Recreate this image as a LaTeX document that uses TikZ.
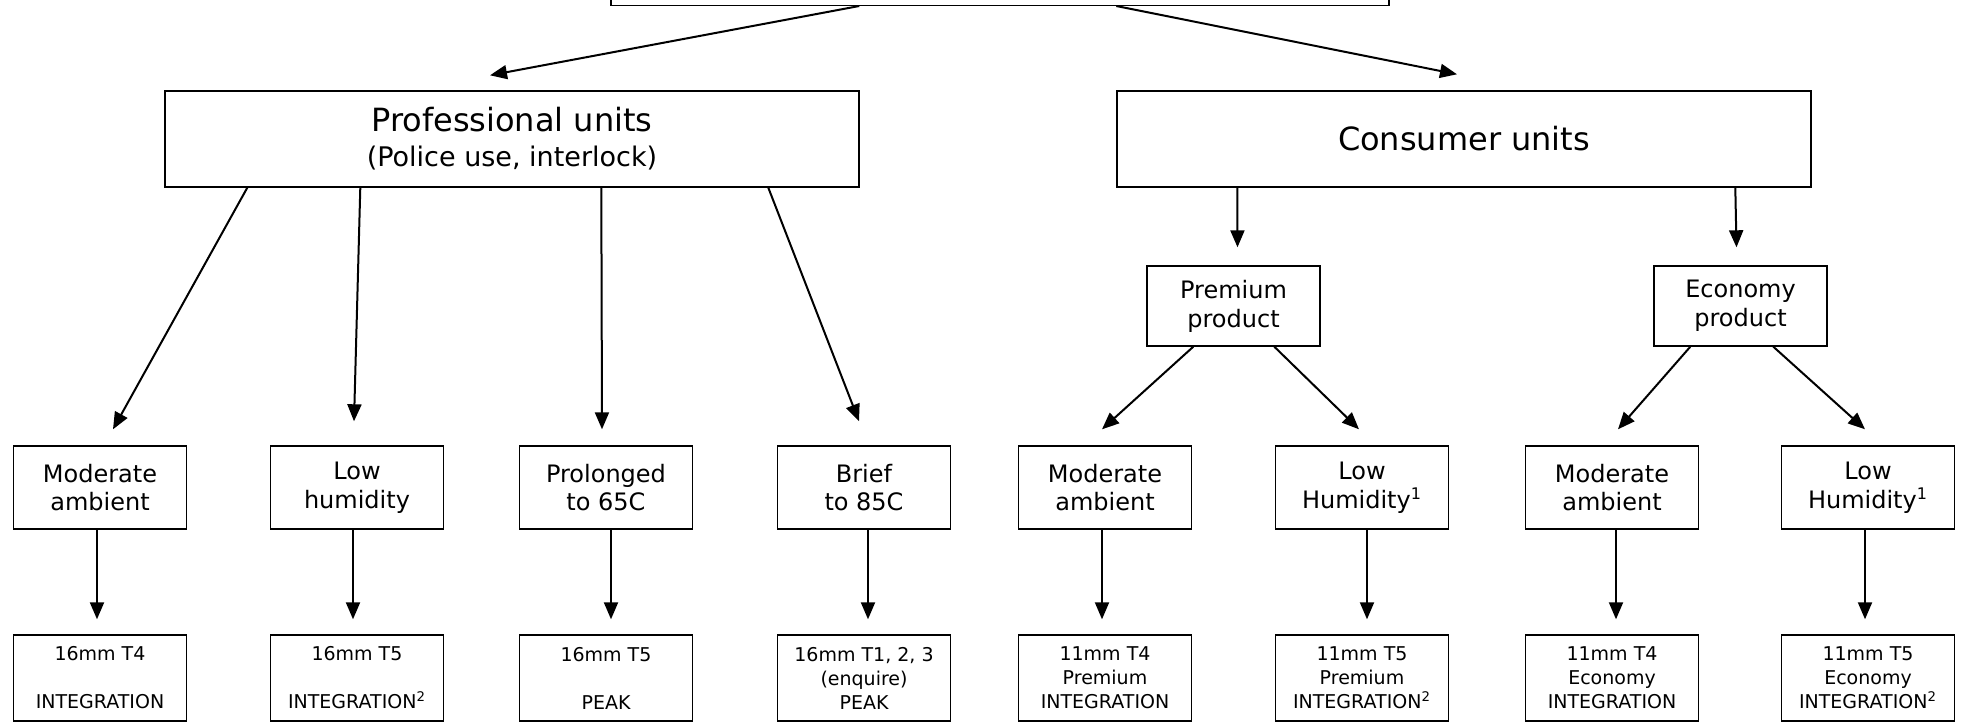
\documentclass[tikz,border=0pt]{standalone}
\usepackage{fontspec}
\setmainfont{DejaVu Sans}
\usetikzlibrary{arrows.meta}

\begin{document}
\begin{tikzpicture}[x=0.5pt, y=-0.5pt,
	unitbox/.style={draw, line width=0.7pt, minimum width=347pt, minimum height=48pt, inner sep=0pt, align=center},
	midbox/.style={draw, line width=0.7pt, minimum width=86.5pt, minimum height=41.5pt, inner sep=0pt, align=center, font=\fontsize{12}{14.4}\selectfont},
	lampbox/.style={draw, line width=0.7pt, minimum width=86.5pt, minimum height=43pt, inner sep=0pt, align=center, font=\fontsize{9.5}{12}\selectfont},
	arr/.style={line width=1pt, -{Triangle[length=8.5pt, width=7pt]}}]
	\useasboundingbox (0,0) rectangle (1964,722);
	% top level
	\node[draw, line width=0.7pt, minimum width=389pt, minimum height=40pt, anchor=south] (root) at (1000,6) {};
	\node[unitbox, font=\fontsize{16}{17.5}\selectfont] (prof) at (512,139) {Professional units\\{\fontsize{13.5}{17.5}\selectfont (Police use, interlock)}};
	\node[unitbox, font=\fontsize{16}{19}\selectfont] (cons) at (1464,139) {Consumer units};
	\node[midbox, minimum height=40pt] (prem) at (1233.5,306) {Premium\\product};
	\node[midbox, minimum height=40pt] (econ) at (1740.5,306) {Economy\\product};
	% conditions
	\node[midbox] (pmod) at (100,487.5) {Moderate\\ambient};
	\node[midbox] (plow) at (357,487.5) {Low\\humidity};
	\node[midbox] (plong) at (606,487.5) {Prolonged\\to 65C};
	\node[midbox] (pbrief) at (864,487.5) {Brief\\to 85C};
	\node[midbox] (prmod) at (1105,487.5) {Moderate\\ambient};
	\node[midbox] (prlow) at (1362,487.5) {Low\\Humidity\textsuperscript{1}};
	\node[midbox] (ecmod) at (1612,487.5) {Moderate\\ambient};
	\node[midbox] (eclow) at (1868,487.5) {Low\\Humidity\textsuperscript{1}};
	% lamps
	\node[lampbox] (pmodl) at (100,678) {16mm T4\\[12pt]INTEGRATION};
	\node[lampbox] (plowl) at (357,678) {16mm T5\\[12pt]INTEGRATION\textsuperscript{2}};
	\node[lampbox] (plongl) at (606,678) {16mm T5\\[12pt]PEAK};
	\node[lampbox] (pbriefl) at (864,678) {16mm T1, 2, 3\\(enquire)\\PEAK};
	\node[lampbox] (prmodl) at (1105,678) {11mm T4\\Premium\\INTEGRATION};
	\node[lampbox] (prlowl) at (1362,678) {11mm T5\\Premium\\INTEGRATION\textsuperscript{2}};
	\node[lampbox] (ecmodl) at (1612,678) {11mm T4\\Economy\\INTEGRATION};
	\node[lampbox] (eclowl) at (1868,678) {11mm T5\\Economy\\INTEGRATION\textsuperscript{2}};
	% arrows
	\draw[arr] ([xshift=124.5pt]root.south west) -- ([shift={(-11pt,7.5pt)}]prof.north);
	\draw[arr] ([xshift=253pt]root.south west) -- ([shift={(-3.5pt,8pt)}]cons.north);
	\draw[arr] ([xshift=41.5pt]prof.south west) -- ([shift={(6.5pt,8pt)}]pmod.north);
	\draw[arr] ([xshift=98pt]prof.south west) -- ([shift={(-1.5pt,12pt)}]plow.north);
	\draw[arr] ([xshift=218.5pt]prof.south west) -- ([shift={(-2pt,8pt)}]plong.north);
	\draw[arr] ([xshift=302pt]prof.south west) -- ([shift={(-2.5pt,12pt)}]pbrief.north);
	\draw[arr] ([xshift=60.5pt]cons.south west) -- ([shift={(2pt,9pt)}]prem.north);
	\draw[arr] ([xshift=309.5pt]cons.south west) -- ([shift={(-2pt,9pt)}]econ.north);
	\draw[arr] ([xshift=23.5pt]prem.south west) -- ([shift={(-1.5pt,8pt)}]prmod.north);
	\draw[arr] ([xshift=64pt]prem.south west) -- ([shift={(-1.5pt,8pt)}]prlow.north);
	\draw[arr] ([xshift=18.5pt]econ.south west) -- ([shift={(3pt,8pt)}]ecmod.north);
	\draw[arr] ([xshift=60pt]econ.south west) -- ([shift={(-1.5pt,8pt)}]eclow.north);
	\draw[arr] ([xshift=-1.5pt]pmod.south) -- ([shift={(-1.5pt,7.5pt)}]pmodl.north);
	\draw[arr] ([xshift=-2pt]plow.south) -- ([shift={(-2pt,7.5pt)}]plowl.north);
	\draw[arr] ([xshift=2.5pt]plong.south) -- ([shift={(2.5pt,7.5pt)}]plongl.north);
	\draw[arr] ([xshift=2pt]pbrief.south) -- ([shift={(2pt,7.5pt)}]pbriefl.north);
	\draw[arr] ([xshift=-1.5pt]prmod.south) -- ([shift={(-1.5pt,7.5pt)}]prmodl.north);
	\draw[arr] ([xshift=2.5pt]prlow.south) -- ([shift={(2.5pt,7.5pt)}]prlowl.north);
	\draw[arr] ([xshift=2pt]ecmod.south) -- ([shift={(2pt,7.5pt)}]ecmodl.north);
	\draw[arr] ([xshift=-1.5pt]eclow.south) -- ([shift={(-1.5pt,7.5pt)}]eclowl.north);
\end{tikzpicture}
\end{document}
